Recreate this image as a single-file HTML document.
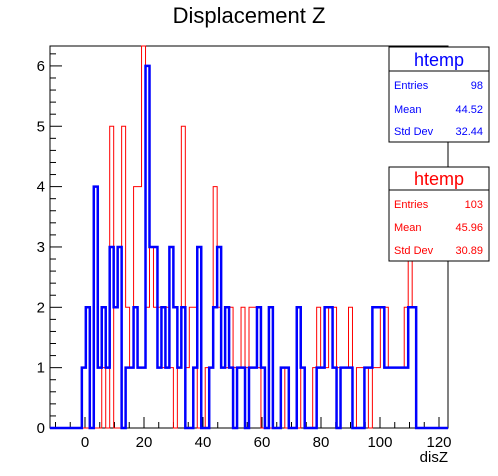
<!DOCTYPE html>
<html><head><meta charset="utf-8"><style>
html,body{margin:0;padding:0;background:#fff;}
svg{display:block;font-family:"Liberation Sans",sans-serif;}
</style></head><body>
<svg id="chart" width="498" height="476" viewBox="0 0 498 476" xmlns="http://www.w3.org/2000/svg">
<text x="249" y="23" font-size="22" text-anchor="middle">Displacement Z</text>
<rect x="50" y="46" width="398" height="382" fill="none" stroke="#000" stroke-width="1"/>
<g id="ticks"></g>
<g id="series"></g>
<text x="448" y="462" font-size="15" text-anchor="end">disZ</text>
<g>
<rect x="389" y="47" width="100" height="95" fill="#fff" stroke="#000"/>
<line x1="389" y1="71" x2="489" y2="71" stroke="#000"/>
<text x="439" y="66" font-size="18" fill="#0000ff" text-anchor="middle">htemp</text>
<text x="394" y="89" font-size="11" fill="#0000ff">Entries</text><text x="483" y="89" font-size="11" fill="#0000ff" text-anchor="end">98</text>
<text x="394" y="113" font-size="11" fill="#0000ff">Mean</text><text x="483" y="113" font-size="11" fill="#0000ff" text-anchor="end">44.52</text>
<text x="394" y="135" font-size="11" fill="#0000ff">Std Dev</text><text x="483" y="135" font-size="11" fill="#0000ff" text-anchor="end">32.44</text>
</g>
<g>
<rect x="389" y="167" width="100" height="94" fill="#fff" stroke="#000"/>
<line x1="389" y1="190" x2="489" y2="190" stroke="#000"/>
<text x="439" y="185" font-size="18" fill="#ff0000" text-anchor="middle">htemp</text>
<text x="394" y="208" font-size="11" fill="#ff0000">Entries</text><text x="483" y="208" font-size="11" fill="#ff0000" text-anchor="end">103</text>
<text x="394" y="231" font-size="11" fill="#ff0000">Mean</text><text x="483" y="231" font-size="11" fill="#ff0000" text-anchor="end">45.96</text>
<text x="394" y="254" font-size="11" fill="#ff0000">Std Dev</text><text x="483" y="254" font-size="11" fill="#ff0000" text-anchor="end">30.89</text>
</g>
</svg>
<script>
const xMin = -11.86, xMax = 123.05, nBins = 100;
const yMin = 0, yMax = 6.33;
const xTickLabels = [0, 20, 40, 60, 80, 100, 120];
const yTickLabels = [0, 1, 2, 3, 4, 5, 6];
// bin index -> count
const blueBins = {8:1,9:2,10:0,11:4,12:1,13:2,14:1,15:3,16:2,17:3,18:0,19:1,20:1,21:2,22:1,23:1,24:6,25:3,26:3,27:1,28:2,29:1,30:3,31:2,32:1,33:2,36:1,37:3,40:1,41:2,42:3,43:1,44:2,45:1,47:1,48:1,50:1,51:1,52:2,53:1,55:2,58:1,59:1,62:2,63:1,67:1,68:1,69:2,70:2,71:1,73:1,74:1,75:1,79:1,80:1,81:2,82:2,83:2,84:1,85:1,86:1,87:1,88:1,89:1,90:2,91:2};
const redBins = {13:1,15:5,18:5,19:2,20:1,21:4,22:4,23:7,24:2,25:3,26:2,27:2,28:1,29:2,30:1,32:1,33:5,34:1,35:2,36:2,39:1,40:1,41:4,42:2,43:1,44:1,45:2,46:1,47:1,48:2,49:1,50:2,51:2,52:1,58:1,63:1,66:1,67:2,68:1,69:1,70:2,71:2,72:1,73:1,74:1,75:2,77:1,78:1,79:1,81:1,82:1,83:2,84:2,85:1,86:1,87:1,88:1,89:2,90:4,91:2};

const L = 50, R = 448, T = 46, B = 428;
const sx = v => L + (v - xMin) / (xMax - xMin) * (R - L);
const sy = v => B - (Math.min(v, yMax) - yMin) / (yMax - yMin) * (B - T);
const NS = "http://www.w3.org/2000/svg";
const tg = document.getElementById('ticks');
function mk(tag, attrs, parent){const e=document.createElementNS(NS,tag);for(const k in attrs)e.setAttribute(k,attrs[k]);parent.appendChild(e);return e;}

for (let v = -10; v <= 120; v += 5) {
  const x = sx(v); const major = v % 20 === 0;
  const t = mk('line', {x1:x, x2:x, y1:B, y2:B-(major?11:6), stroke:'#000'}, tg);
  
  
}
xTickLabels.forEach(v => {
  const t = mk('text', {x:sx(v), y:B+19, 'font-size':15, 'text-anchor':'middle'}, tg);
  t.textContent = v;
  
  
});
for (let v = 0; v <= 6.3; v += 0.2) {
  const y = sy(v); const major = Math.abs(v - Math.round(v)) < 1e-6;
  const t = mk('line', {x1:L, x2:L+(major?12:6), y1:y, y2:y, stroke:'#000'}, tg);
  
  
}
yTickLabels.forEach(v => {
  const t = mk('text', {x:L-5, y:sy(v)+5, 'font-size':15, 'text-anchor':'end'}, tg);
  t.textContent = v;
  
  
});

function histPath(bins){
  const w = (xMax - xMin) / nBins;
  let d = 'M' + sx(xMin) + ',' + sy(0);
  for (let i = 0; i < nBins; i++) {
    const v = bins[i] || 0;
    d += ' L' + sx(xMin + i*w) + ',' + sy(v) + ' L' + sx(xMin + (i+1)*w) + ',' + sy(v);
  }
  d += ' L' + sx(xMax) + ',' + sy(0);
  return d;
}
const sg = document.getElementById('series');
const pr = mk('path', {d:histPath(redBins), fill:'none', stroke:'#ff0000', 'stroke-width':1}, sg);


const pb = mk('path', {d:histPath(blueBins), fill:'none', stroke:'#0000ff', 'stroke-width':2.5}, sg);


</script>
</body></html>
